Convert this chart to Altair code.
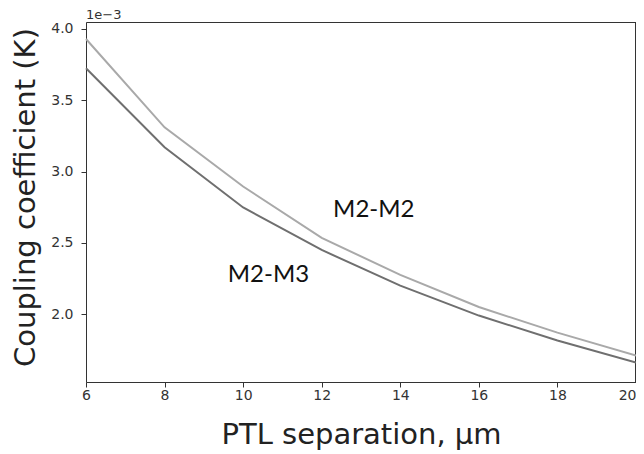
import altair as alt
import pandas as pd

# PTL separation (um)
separation = [6, 8, 10, 12, 14, 16, 18, 20]
# Coupling coefficient, in units of 1e-3
m2_m2 = [3.93, 3.31, 2.895, 2.535, 2.275, 2.05, 1.87, 1.71]
m2_m3 = [3.725, 3.17, 2.748, 2.45, 2.20, 1.99, 1.815, 1.66]

series_names = ["M2-M2", "M2-M3"]
series_colors = ["#a9a9a9", "#6f6f6f"]

label_text = ["M2-M2", "M2-M3"]
label_x = [12.29, 9.61]
label_y = [2.68, 2.226]

x_ticks = [6, 8, 10, 12, 14, 16, 18, 20]
y_ticks = [2.0, 2.5, 3.0, 3.5, 4.0]

rows = []
for name, vals in zip(series_names, [m2_m2, m2_m3]):
    for s, v in zip(separation, vals):
        rows.append({"sep": s, "k": v, "series": name})
df = pd.DataFrame(rows)
lab = pd.DataFrame({"text": label_text, "x": label_x, "y": label_y})

AX = "#333333"
FONT = "DejaVu Sans"

xs = alt.Scale(domain=[6, 20], nice=False, zero=False)
ys = alt.Scale(domain=[1.524, 4.049], nice=False, zero=False)

lines = alt.Chart(df).mark_line(strokeWidth=2).encode(
    x=alt.X("sep:Q", scale=xs, axis=alt.Axis(
        title="PTL separation, μm", values=x_ticks, format="d",
        labelFontSize=14, labelFont=FONT, labelColor=AX,
        labelAlign=alt.ExprRef(expr="datum.value >= 20 ? 'right' : 'center'"),
        tickSize=5, tickColor=AX, domainColor=AX, labelPadding=1,
        titleFont=FONT, titleFontSize=29, titleFontWeight="normal", titleColor="#222222",
        titleX=275, titleY=61, titleBaseline="alphabetic", titleAlign="center",
        grid=False, labelFlush=False)),
    y=alt.Y("k:Q", scale=ys, axis=alt.Axis(
        title="Coupling coefficient (K)", values=y_ticks, format=".1f",
        labelFontSize=14, labelFont=FONT, labelColor=AX,
        tickSize=5, tickColor=AX, domainColor=AX, labelPadding=8,
        titleFont=FONT, titleFontSize=29, titleFontWeight="normal", titleColor="#222222",
        titleX=-52, titleY=175, titleAngle=270, titleBaseline="alphabetic", titleAlign="center",
        grid=False, labelFlush=False)),
    color=alt.Color("series:N", scale=alt.Scale(domain=series_names, range=series_colors), legend=None),
    detail="series:N",
)

# top and right spines (axes with domain line only)
spines = alt.Chart(df).mark_line(opacity=0).encode(
    x=alt.X("sep:Q", scale=xs, axis=alt.Axis(
        orient="top", labels=False, ticks=False, title=None, domainColor=AX, grid=False)),
    y=alt.Y("k:Q", scale=ys, axis=alt.Axis(
        orient="right", labels=False, ticks=False, title=None, domainColor=AX, grid=False,
        offset=-1)),
    detail="series:N",
)

texts = alt.Chart(lab).mark_text(
    font="Lato", fontSize=24, align="left", baseline="alphabetic", color="#111111"
).encode(
    x=alt.X("x:Q", scale=xs, axis=None),
    y=alt.Y("y:Q", scale=ys, axis=None),
    text="text:N",
)

chart = alt.layer(lines, spines, texts).resolve_axis(
    x="independent", y="independent"
).properties(
    width=550, height=360,
    autosize=alt.AutoSizeParams(type="none"),
    padding={"left": 78, "top": 14, "right": 0, "bottom": 68},
    title=alt.TitleParams("1e−3", anchor="start", frame="group", fontSize=13,
                          font=FONT, fontWeight="normal", color=AX, offset=0),
).configure_view(stroke="transparent").configure(background="white")

chart.save("out.html", embed_options={"renderer": "svg", "actions": False})
